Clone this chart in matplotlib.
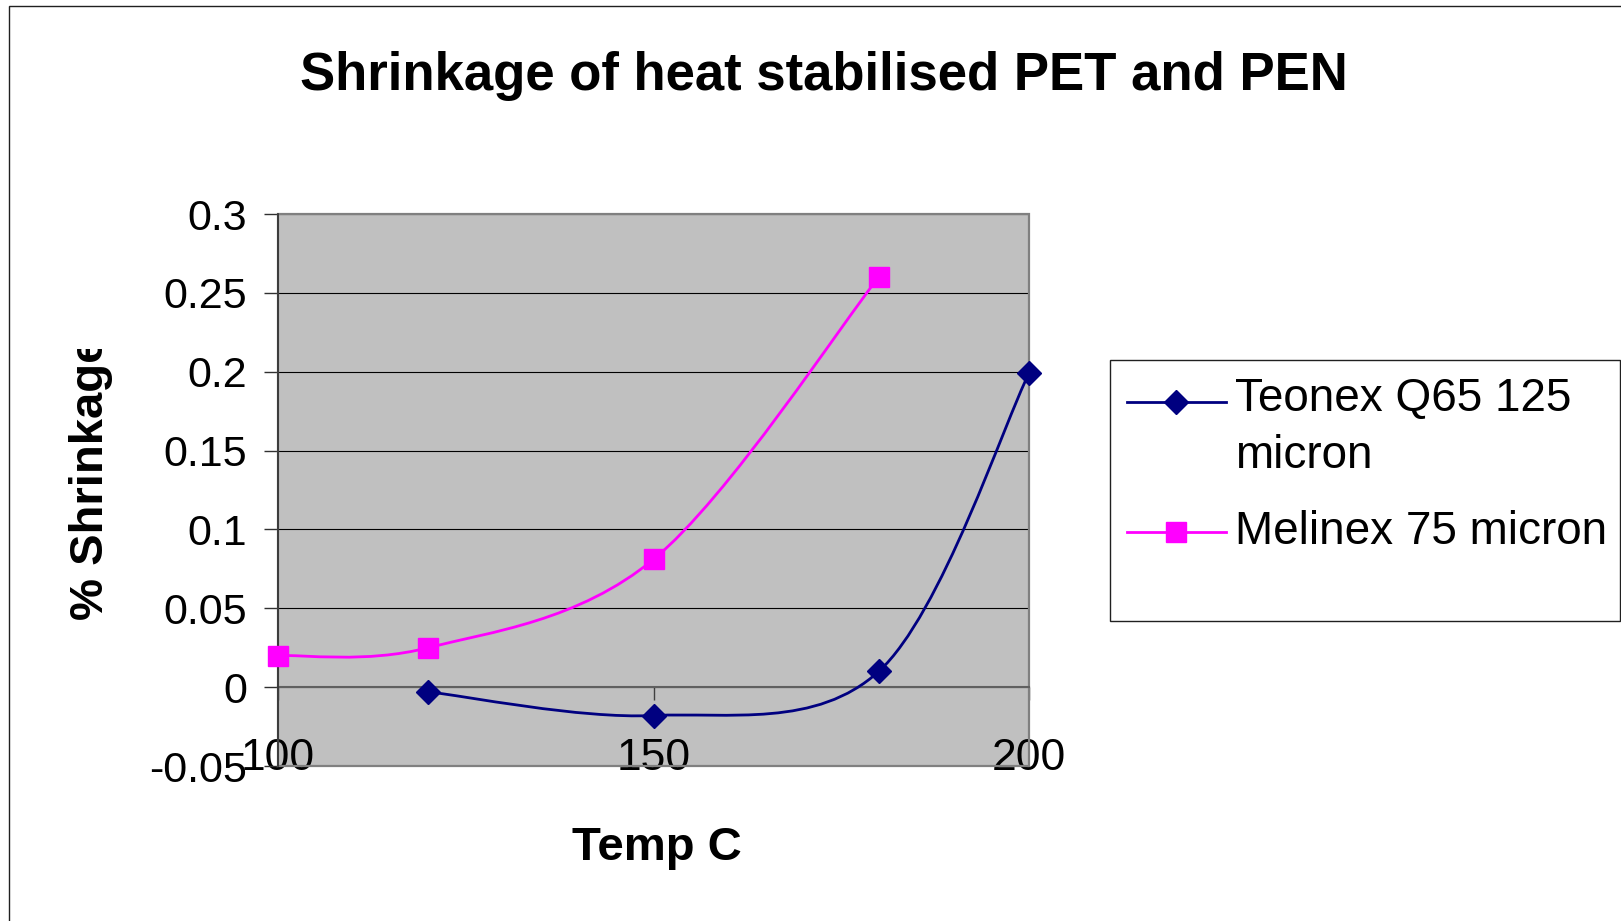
import numpy as np
import matplotlib
matplotlib.use("Agg")
import matplotlib.pyplot as plt
from matplotlib.path import Path
from matplotlib.patches import PathPatch, Rectangle
from matplotlib.lines import Line2D
from matplotlib.legend_handler import HandlerLine2D
from matplotlib.transforms import Bbox, TransformedBbox

# data
teonex_temp = [120, 150, 180, 200]
teonex_shrink = [-0.003, -0.018, 0.01, 0.199]
melinex_temp = [100, 120, 150, 180]
melinex_shrink = [0.02, 0.025, 0.081, 0.26]

x_ticks = [100, 150, 200]
x_tick_labels = ["100", "150", "200"]
y_ticks = [-0.05, 0, 0.05, 0.1, 0.15, 0.2, 0.25, 0.3]
y_tick_labels = ["-0.05", "0", "0.05", "0.1", "0.15", "0.2", "0.25", "0.3"]

series_labels = ["Teonex Q65 125\nmicron", "Melinex 75 micron"]

W, H = 1621, 921


def smooth_path(xs, ys):
    # Excel style smoothed line: cubic bezier segments through every point
    pts = np.column_stack([xs, ys]).astype(float)
    verts = [pts[0]]
    codes = [Path.MOVETO]
    for i in range(len(pts) - 1):
        p0 = pts[max(i - 1, 0)]
        p1, p2 = pts[i], pts[i + 1]
        p3 = pts[min(i + 2, len(pts) - 1)]
        verts += [p1 + (p2 - p0) / 6, p2 - (p3 - p1) / 6, p2]
        codes += [Path.CURVE4] * 3
    return Path(verts, codes)


class ShiftedHandler(HandlerLine2D):
    # moves the legend sample up so it sits on the first text line
    def __init__(self, shift, **kw):
        super().__init__(**kw)
        self.shift = shift

    def create_artists(self, legend, orig_handle, xdescent, ydescent,
                       width, height, fontsize, trans):
        arts = super().create_artists(legend, orig_handle, xdescent, ydescent,
                                      width, height, fontsize, trans)
        for a in arts:
            a.set_ydata(np.asarray(a.get_ydata(), dtype=float) + self.shift)
        return arts


def main():
    plt.rcParams['font.family'] = ['Liberation Sans', 'DejaVu Sans']

    fig = plt.figure(figsize=(W / 100, H / 100), dpi=100)
    fig.patch.set_facecolor("white")

    # chart area border (runs off the right and bottom edges)
    fig.patches.append(Rectangle((9 / W, -0.1), 1.2, 1 - 6 / H + 0.1,
                                 transform=fig.transFigure, fill=False,
                                 ec="#202020", lw=1.0))

    ax = fig.add_axes([278 / W, 1 - 766 / H, 751 / W, 552 / H])
    ax.set_facecolor("#C0C0C0")
    ax.set_xlim(100, 200)
    ax.set_ylim(-0.05, 0.3)
    ax.set_axisbelow(True)

    # plot area border
    ax.add_patch(Rectangle((0, 0), 1, 1, transform=ax.transAxes, fill=False,
                           ec="#808080", lw=1.6, zorder=2.5, clip_on=False))

    for s in ["top", "right"]:
        ax.spines[s].set_visible(False)
    ax.spines["bottom"].set_position(("data", 0))
    ax.spines["bottom"].set_color("#606060")
    ax.spines["bottom"].set_linewidth(1.5)
    ax.spines["left"].set_color("#303030")
    ax.spines["left"].set_linewidth(1.2)
    ax.spines["left"].set_zorder(2.6)

    ax.yaxis.grid(True, color="black", lw=0.8)

    ax.set_xticks(x_ticks)
    ax.set_xticklabels(x_tick_labels)
    ax.set_yticks(y_ticks)
    ax.set_yticklabels(y_tick_labels)
    ax.tick_params(axis="x", direction="out", length=9.4, width=1.0,
                   color="#404040", pad=27, labelsize=32)
    ax.tick_params(axis="y", direction="out", length=10, width=1.0,
                   color="#303030", pad=12, labelsize=31)

    # smoothed lines
    ax.add_patch(PathPatch(smooth_path(teonex_temp, teonex_shrink),
                           fc="none", ec="#000080", lw=2.0, zorder=3))
    ax.add_patch(PathPatch(smooth_path(melinex_temp, melinex_shrink),
                           fc="none", ec="#FF00FF", lw=2.0, zorder=3))

    # markers
    ax.plot(teonex_temp, teonex_shrink, ls="none", marker="D", ms=12,
            color="#000080", mew=1, zorder=4, clip_on=False)
    ax.plot(melinex_temp, melinex_shrink, ls="none", marker="s", ms=14,
            color="#FF00FF", mew=1, zorder=4, clip_on=False)

    # titles
    fig.text(824 / W, 1 - 90 / H, "Shrinkage of heat stabilised PET and PEN",
             ha="center", va="baseline", fontsize=38, fontweight="bold")
    fig.text(657 / W, 1 - 860 / H, "Temp C", ha="center", va="baseline",
             fontsize=34, fontweight="bold")
    ylab = fig.text(103 / W, 1 - 620 / H, "% Shrinkage", rotation=90,
                    rotation_mode="anchor", ha="left", va="baseline",
                    fontsize=34, fontweight="bold")
    ylab.set_clip_box(TransformedBbox(Bbox([[0, 0], [1, 1 - 349 / H]]),
                                      fig.transFigure))
    ylab.set_clip_on(True)

    # legend
    h1 = Line2D([], [], color="#000080", lw=2.0, marker="D", ms=12, mew=1)
    h2 = Line2D([], [], color="#FF00FF", lw=2.0, marker="s", ms=14, mew=1)
    leg = fig.legend([h1, h2], series_labels, loc="upper left",
                     bbox_to_anchor=(1127 / W, 1 - 377 / H), frameon=False,
                     fontsize=33, handlelength=2.15, handletextpad=0.2,
                     borderpad=0, borderaxespad=0, labelspacing=0.71,
                     handler_map={h1: ShiftedHandler(19), h2: ShiftedHandler(-2.5)})
    for t in leg.get_texts():
        t.set_linespacing(1.38)
    fig.patches.append(Rectangle((1110 / W, 1 - 621 / H), 510 / W, 261 / H,
                                 transform=fig.transFigure, fill=False,
                                 ec="#202020", lw=1.0))

    fig.savefig("out.png", dpi=100)


if __name__ == "__main__":
    main()
